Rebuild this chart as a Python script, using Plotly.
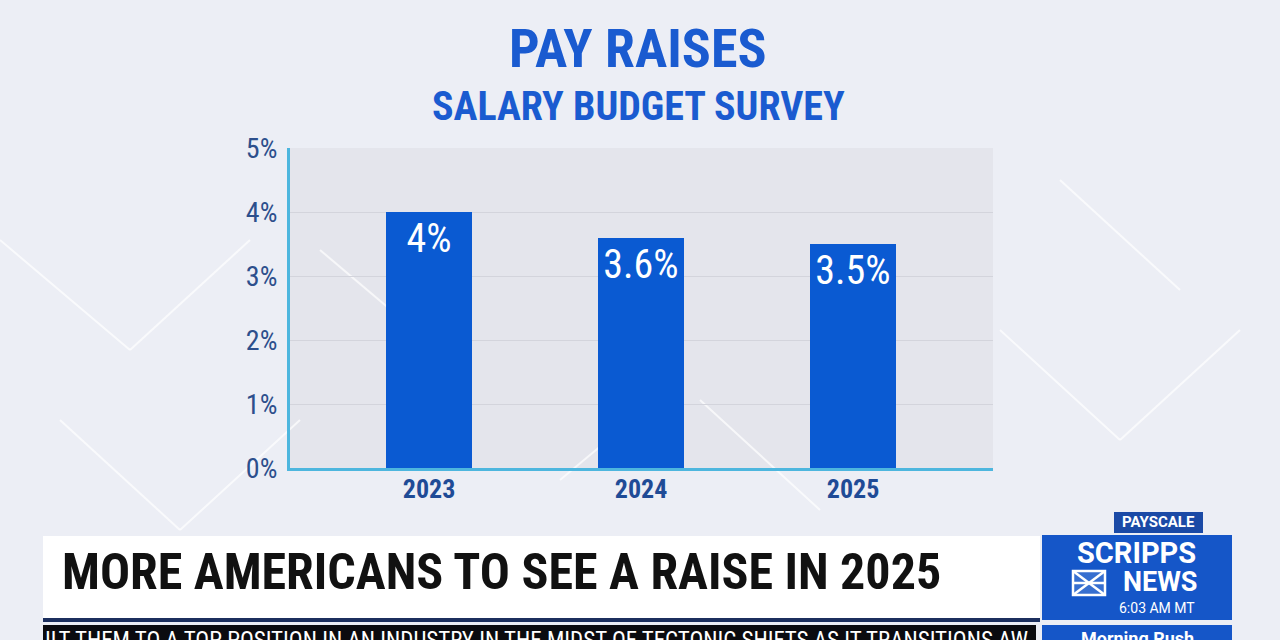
import plotly.graph_objects as go

years = ["2023", "2024", "2025"]
raises = [4.0, 3.6, 3.5]
bar_labels = ["4%", "3.6%", "3.5%"]
y_ticks = [0, 1, 2, 3, 4, 5]
y_tick_labels = ["0%", "1%", "2%", "3%", "4%", "5%"]

W, H = 1280, 640
def px(x):
    return x / W
def py(y):
    return 1 - y / H

NARROW = "Roboto Condensed, DejaVu Sans Condensed, Liberation Sans Narrow, Roboto, sans-serif"
BLUE = "#1a5bd0"

fig = go.Figure()
fig.add_trace(go.Bar(
    x=years, y=raises, width=0.405,
    marker=dict(color="#0a5ad2", line=dict(width=0)),
    text=bar_labels, textposition="inside", insidetextanchor="end",
    textangle=0,
    textfont=dict(family=NARROW, size=40, color="white"),
    cliponaxis=False,
))

shapes = []
deco = [
    (0, 240, 130, 350), (130, 350, 250, 240), (60, 420, 180, 530), (180, 530, 300, 420),
    (1000, 330, 1120, 440), (1120, 440, 1240, 330), (1060, 180, 1180, 290),
    (320, 250, 450, 360), (700, 400, 820, 510), (560, 480, 680, 380),
]
for x0, y0, x1, y1 in deco:
    shapes.append(dict(type="line", xref="paper", yref="paper",
                       x0=px(x0), y0=py(y0), x1=px(x1), y1=py(y1),
                       line=dict(color="rgba(255,255,255,0.7)", width=2), layer="below"))
shapes.append(dict(type="rect", xref="paper", yref="paper", x0=px(43), x1=px(1040), y0=py(618), y1=py(536),
                   fillcolor="white", line=dict(width=0)))
shapes.append(dict(type="rect", xref="paper", yref="paper", x0=px(43), x1=px(1040), y0=py(622), y1=py(618),
                   fillcolor="#1c2f5e", line=dict(width=0)))
shapes.append(dict(type="rect", xref="paper", yref="paper", x0=px(43), x1=px(1036), y0=py(640), y1=py(625),
                   fillcolor="#0b0b0f", line=dict(width=0)))
shapes.append(dict(type="rect", xref="paper", yref="paper", x0=px(1042), x1=px(1232), y0=py(620), y1=py(535),
                   fillcolor="#1556c8", line=dict(width=0)))
shapes.append(dict(type="rect", xref="paper", yref="paper", x0=px(1042), x1=px(1232), y0=py(640), y1=py(625),
                   fillcolor="#1556c8", line=dict(width=0)))
shapes.append(dict(type="rect", xref="paper", yref="paper", x0=px(1114), x1=px(1203), y0=py(533), y1=py(512),
                   fillcolor="#1b4aa6", line=dict(width=0)))
# logo icon (square with diagonals)
ix0, ix1, iy0, iy1 = 1073, 1105, 571, 595
shapes.append(dict(type="rect", xref="paper", yref="paper", x0=px(ix0), x1=px(ix1), y0=py(iy1), y1=py(iy0),
                   fillcolor="rgba(255,255,255,0.15)", line=dict(color="white", width=2.5)))
for (a, b, c, d) in [(ix0, iy0, ix1, iy1), (ix0, iy1, ix1, iy0), (ix0, (iy0 + iy1) / 2, ix1, (iy0 + iy1) / 2)]:
    shapes.append(dict(type="line", xref="paper", yref="paper", x0=px(a), y0=py(b), x1=px(c), y1=py(d),
                       line=dict(color="white", width=2.5)))

annotations = [
    dict(text="<b>PAY RAISES</b>", x=px(638), y=py(49), xref="paper", yref="paper", showarrow=False,
         font=dict(family=NARROW, size=54, color=BLUE), xanchor="center", yanchor="middle"),
    dict(text="<b>SALARY BUDGET SURVEY</b>", x=px(638), y=py(106), xref="paper", yref="paper", showarrow=False,
         font=dict(family=NARROW, size=40, color=BLUE), xanchor="center", yanchor="middle"),
    dict(text="<b>MORE AMERICANS TO SEE A RAISE IN 2025</b>", x=px(60), y=py(572), xref="paper", yref="paper",
         showarrow=False, font=dict(family=NARROW, size=50, color="#111111"), xanchor="left", yanchor="middle"),
    dict(text="<b>PAYSCALE</b>", x=px(1158.5), y=py(522), xref="paper", yref="paper", showarrow=False,
         font=dict(family="Roboto, sans-serif", size=15, color="white"), xanchor="center", yanchor="middle"),
    dict(text="<b>SCRIPPS</b>", x=px(1136), y=py(553), xref="paper", yref="paper", showarrow=False,
         font=dict(family="Roboto, sans-serif", size=29, color="white"), xanchor="center", yanchor="middle"),
    dict(text="<b>NEWS</b>", x=px(1200), y=py(582), xref="paper", yref="paper", showarrow=False,
         font=dict(family="Roboto, sans-serif", size=27, color="white"), xanchor="right", yanchor="middle"),
    dict(text="6:03 AM MT", x=px(1197), y=py(608), xref="paper", yref="paper", showarrow=False,
         font=dict(family="Roboto, sans-serif", size=14, color="white"), xanchor="right", yanchor="middle"),
    dict(text="<b>Morning Rush</b>", x=px(1137), y=py(638), xref="paper", yref="paper", showarrow=False,
         font=dict(family="Roboto, sans-serif", size=18, color="white"), xanchor="center", yanchor="middle"),
    dict(text="ILT THEM TO A TOP POSITION IN AN INDUSTRY IN THE MIDST OF TECTONIC SHIFTS AS IT TRANSITIONS AW",
         x=px(43), y=py(640), xref="paper", yref="paper", showarrow=False,
         font=dict(family=NARROW, size=23, color="white"), xanchor="left", yanchor="middle"),
]

fig.update_layout(
    width=W, height=H,
    margin=dict(l=0, r=0, t=0, b=0),
    paper_bgcolor="#eceef5",
    plot_bgcolor="#e4e5ec",
    showlegend=False,
    shapes=shapes,
    annotations=annotations,
    xaxis=dict(domain=[px(290), px(993)], range=[-0.656, 2.66], automargin=False,
               showline=True, linecolor="#4db6de", linewidth=3,
               tickfont=dict(family=NARROW, size=26, color="#1f4b96"),
               ticks="", showgrid=False, ticklabelstandoff=-4),
    yaxis=dict(domain=[py(468), py(148)], range=[0, 5], automargin=False,
               tickvals=y_ticks, ticktext=y_tick_labels,
               showline=True, linecolor="#4db6de", linewidth=3,
               tickfont=dict(family=NARROW, size=28, color="#2c4f8c"),
               gridcolor="#d3d4dc", gridwidth=1, zeroline=False, ticks="",
               ticklabelstandoff=4),
    bargap=0,
)
fig.update_xaxes(tickprefix="<b>", ticksuffix="</b>")
fig.write_html("out.html")
